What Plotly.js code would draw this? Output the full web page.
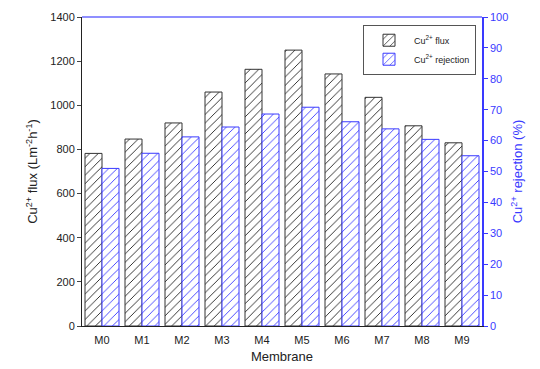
<!DOCTYPE html>
<html><head><meta charset="utf-8">
<script src="https://cdn.plot.ly/plotly-3.0.1.min.js"></script>
<style>body{margin:0;background:#fff}#c{width:540px;height:369px}</style>
</head><body><div id="c"></div>
<script>
const membranes = ["M0","M1","M2","M3","M4","M5","M6","M7","M8","M9"];
const fluxValues = [782, 847, 920, 1060, 1163, 1250, 1142, 1036, 907, 830];
const rejectionValues = [51.0, 55.9, 61.2, 64.4, 68.6, 70.8, 66.1, 63.8, 60.4, 55.1];

const font = "Liberation Sans, Arial, sans-serif";
const traces = [
  {type:"bar", name:"Cu<sup>2+</sup> flux", x:membranes, y:fluxValues, yaxis:"y", offsetgroup:"1",
   marker:{color:"white", line:{color:"#333", width:1}, pattern:{shape:"/", fgcolor:"#222", bgcolor:"white", size:6, solidity:0.15}}},
  {type:"bar", name:"Cu<sup>2+</sup> rejection", x:membranes, y:rejectionValues, yaxis:"y2", offsetgroup:"2",
   marker:{color:"white", line:{color:"#3a3aff", width:1}, pattern:{shape:"/", fgcolor:"#3a3aff", bgcolor:"white", size:6, solidity:0.15}}}
];
const layout = {
  width:540, height:369,
  margin:{l:82, r:58, t:17, b:43},
  paper_bgcolor:"white", plot_bgcolor:"white",
  font:{family:font, size:11, color:"#222"},
  barmode:"group", bargap:0.15, bargroupgap:0,
  showlegend:true,
  legend:{x:0.985, y:0.975, xanchor:"right", yanchor:"top", bgcolor:"white", bordercolor:"#555", borderwidth:1,
          font:{size:9, family:font}, tracegroupgap:0, traceorder:"normal", itemwidth:40},
  xaxis:{showline:true, linecolor:"#222", linewidth:1, ticks:"", showgrid:false, zeroline:false,
         tickfont:{size:11}, ticklabelstandoff:4, title:{text:"Membrane", font:{size:13}, standoff:6}},
  yaxis:{range:[0,1400], dtick:200, showline:true, linecolor:"#222", linewidth:1, ticks:"outside", ticklen:4,
         showgrid:false, zeroline:false, tickfont:{size:11},
         title:{text:"Cu<sup>2+</sup> flux (Lm<sup>-2</sup>h<sup>-1</sup>)", font:{size:13}, standoff:9}},
  yaxis2:{range:[0,100], dtick:10, overlaying:"y", side:"right", showline:true, linecolor:"#3a3aff", linewidth:1.5,
          ticks:"outside", ticklen:4, tickcolor:"#3a3aff", showgrid:false, zeroline:false,
          tickfont:{size:11, color:"#3a3aff"},
          title:{text:"Cu<sup>2+</sup> rejection (%)", font:{size:13, color:"#3a3aff"}, standoff:6}},
  shapes:[{type:"line", xref:"paper", yref:"paper", x0:0, x1:1, y0:1, y1:1, line:{color:"#6a6aff", width:1.5}}]
};
Plotly.newPlot("c", traces, layout, {displayModeBar:false});
</script></body></html>
